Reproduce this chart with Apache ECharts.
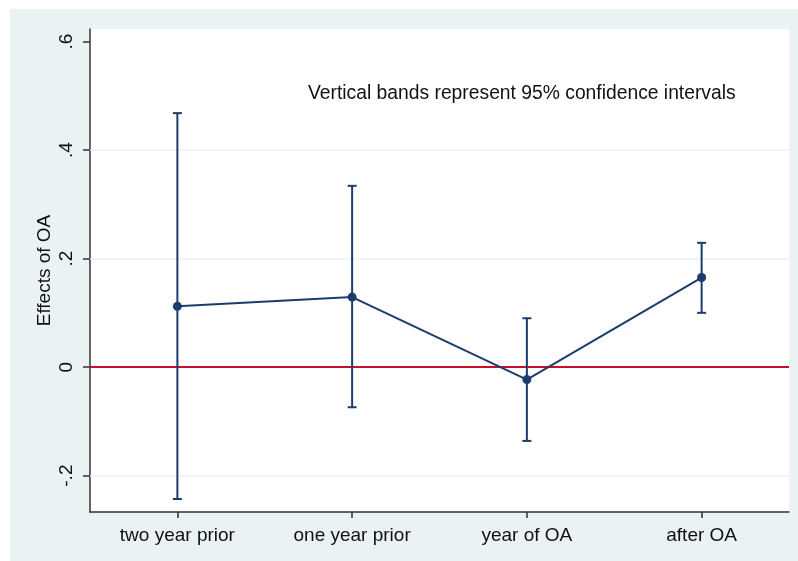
<!DOCTYPE html>
<html>
<head>
<meta charset="utf-8">
<script src="https://cdn.jsdelivr.net/npm/echarts@6/dist/echarts.min.js"></script>
<style>
  html, body { margin: 0; padding: 0; background: #ffffff; }
  #chart { width: 798px; height: 561px; }
</style>
</head>
<body>
<div id="chart"></div>
<script>
// Event-study estimates of the OA effect with 95% confidence bands
const categories = ['two year prior', 'one year prior', 'year of OA', 'after OA'];
const estimates  = [0.112, 0.129, -0.023, 0.165];
const lowerCI    = [-0.243, -0.074, -0.136, 0.100];
const upperCI    = [0.468, 0.334, 0.090, 0.229];
const yTicks      = [-0.2, 0, 0.2, 0.4, 0.6];
const yTickLabels = ['-.2', '0', '.2', '.4', '.6'];
const gridValues  = [-0.2, 0.2, 0.4];
const noteText = 'Vertical bands represent 95% confidence intervals';

const NAVY = '#1b3d6c';
const PANEL = '#eaf2f3';
const FONT = '"Liberation Sans", Arial, sans-serif';

const chart = echarts.init(document.getElementById('chart'), null, { renderer: 'canvas' });

const option = {
  backgroundColor: '#ffffff',
  animation: false,
  graphic: [
    {
      type: 'rect', z: -100, silent: true,
      shape: { x: 10, y: 9, width: 788, height: 552 },
      style: { fill: PANEL }
    },
    {
      type: 'text', left: 308, top: 84, z: 100,
      style: { text: noteText, fill: '#111', font: '19.3px ' + FONT }
    }
  ],
  grid: {
    left: 90, top: 29, right: 9, bottom: 49,
    show: true, backgroundColor: '#ffffff', borderWidth: 0
  },
  xAxis: {
    type: 'category',
    data: categories,
    boundaryGap: true,
    axisLine: { show: true, onZero: false, lineStyle: { color: '#333', width: 1.5 } },
    axisTick: { show: true, alignWithLabel: true, length: 6, lineStyle: { color: '#333', width: 1.5 } },
    axisLabel: { color: '#111', fontSize: 19, fontFamily: FONT, margin: 14 },
    splitLine: { show: false }
  },
  yAxis: {
    type: 'value',
    min: -0.267,
    max: 0.623,
    name: 'Effects of OA',
    nameLocation: 'middle',
    nameGap: 36,
    nameMoveOverlap: false,
    nameRotate: 90,
    nameTextStyle: { color: '#111', fontSize: 19, fontFamily: FONT },
    axisLine: { show: true, lineStyle: { color: '#333', width: 1.5 } },
    axisTick: { show: true, length: 7, customValues: yTicks, lineStyle: { color: '#333', width: 1.5 } },
    axisLabel: {
      customValues: yTicks,
      rotate: 90,
      margin: 14,
      color: '#111', fontSize: 19, fontFamily: FONT,
      formatter: function (v) {
        const i = yTicks.findIndex(t => Math.abs(t - v) < 1e-9);
        return i >= 0 ? yTickLabels[i] : '';
      }
    },
    splitLine: { show: false }
  },
  series: [
    {
      // light horizontal grid lines and the red reference line at zero
      type: 'line',
      data: [],
      silent: true,
      markLine: {
        symbol: 'none',
        silent: true,
        label: { show: false },
        z: 1,
        data: gridValues.map(v => ({ yAxis: v, lineStyle: { color: PANEL, width: 1.5, type: 'solid' } }))
          .concat([{ yAxis: 0, lineStyle: { color: '#c8102e', width: 2, type: 'solid' } }])
      }
    },
    {
      // confidence-interval whiskers with caps
      type: 'custom',
      z: 3,
      data: categories.map((c, i) => [i, lowerCI[i], upperCI[i]]),
      renderItem: function (params, api) {
        const x = api.value(0);
        const lo = api.coord([x, api.value(1)]);
        const hi = api.coord([x, api.value(2)]);
        const cap = 4.5;
        const st = { stroke: NAVY, lineWidth: 2, fill: null };
        return {
          type: 'group',
          children: [
            { type: 'line', shape: { x1: lo[0], y1: lo[1], x2: hi[0], y2: hi[1] }, style: st },
            { type: 'line', shape: { x1: lo[0] - cap, y1: lo[1], x2: lo[0] + cap, y2: lo[1] }, style: st },
            { type: 'line', shape: { x1: hi[0] - cap, y1: hi[1], x2: hi[0] + cap, y2: hi[1] }, style: st }
          ]
        };
      }
    },
    {
      // point estimates connected across periods
      type: 'line',
      z: 4,
      data: estimates,
      symbol: 'circle',
      symbolSize: 9,
      itemStyle: { color: NAVY },
      lineStyle: { color: NAVY, width: 2 }
    }
  ]
};

chart.setOption(option);
</script>
</body>
</html>
